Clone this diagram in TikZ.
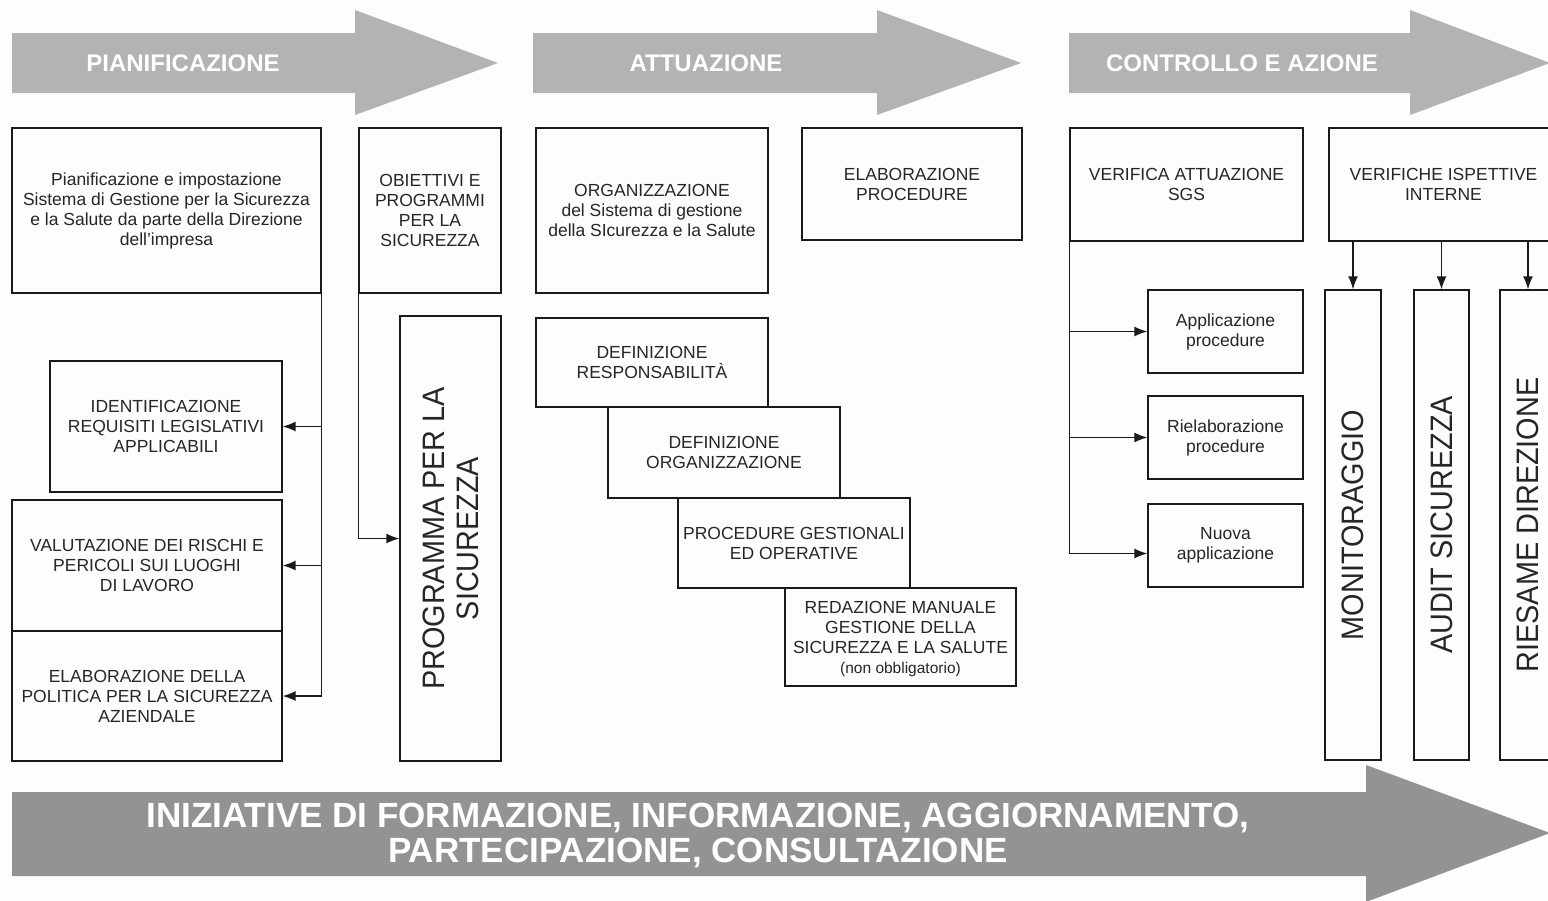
\documentclass[tikz,border=0pt]{standalone}
\usepackage{fontspec}
\setmainfont{Liberation Sans}
\newfontfamily\vertfont[FakeStretch=0.93]{Liberation Sans}
\usetikzlibrary{arrows.meta}
\definecolor{paper}{HTML}{FDFDFD}
\definecolor{phase}{HTML}{B3B3B3}
\definecolor{train}{HTML}{939393}
\definecolor{ink}{HTML}{1A1A1A}
\definecolor{boxtext}{HTML}{262626}
\tikzset{
  ubox/.style={draw=ink, line width=1.2pt, inner sep=0pt, align=center, text=boxtext,
    font=\fontsize{17.5}{20}\selectfont},
  vlab/.style={rotate=90, align=center, text=boxtext, font=\vertfont\fontsize{31}{34}\selectfont},
  phaselab/.style={text=white, font=\bfseries\fontsize{24}{28}\selectfont},
  trainlab/.style={text=white, align=center, font=\bfseries\fontsize{35}{35}\selectfont},
  conn/.style={draw=ink, line width=1.5pt},
  arr/.style={conn, -{Latex[length=13pt,width=10pt]}}
}

\begin{document}
\begin{tikzpicture}[x=1pt, y=-1pt]
  \useasboundingbox (0,0) rectangle (1548,900);
  \fill[paper] (0,0) rectangle (1548,900);

  \fill[phase] (12,33) -- (355,33) -- (355,10) -- (498,63) -- (355,115) -- (355,93) -- (12,93) -- cycle;
  \fill[phase] (533,33) -- (877,33) -- (877,10) -- (1021,63) -- (877,115) -- (877,93) -- (533,93) -- cycle;
  \fill[phase] (1069,33) -- (1410,33) -- (1410,10) -- (1550,63) -- (1410,115) -- (1410,93) -- (1069,93) -- cycle;
  \fill[train] (12,792) -- (1366,792) -- (1366,765) -- (1550,833) -- (1366,902) -- (1366,876) -- (12,876) -- cycle;

  \node[phaselab] (pianlab) at (183,63) {PIANIFICAZIONE};
  \node[phaselab] (attlab) at (706,63) {ATTUAZIONE};
  \node[phaselab] (ctrllab) at (1242,63) {CONTROLLO E AZIONE};
  \node[trainlab] (trainlab) at (698,835.5) {INIZIATIVE DI FORMAZIONE, INFORMAZIONE, AGGIORNAMENTO,\\PARTECIPAZIONE, CONSULTAZIONE};

  % pianificazione
  \node[ubox, minimum width=309pt, minimum height=165pt] (pian) at (166.5,210.5)
    {Pianificazione e impostazione\\Sistema di Gestione per la Sicurezza\\e la Salute da parte della Direzione\\dell’impresa};
  \node[ubox, minimum width=142pt, minimum height=165pt] (obiet) at (430,210.5)
    {OBIETTIVI E\\PROGRAMMI\\PER LA\\SICUREZZA};
  \node[ubox, minimum width=232pt, minimum height=131pt] (ident) at (166,426.5)
    {IDENTIFICAZIONE\\REQUISITI LEGISLATIVI\\APPLICABILI};
  \node[ubox, minimum width=270pt, minimum height=131pt] (valut) at (147,565.5)
    {VALUTAZIONE DEI RISCHI E\\PERICOLI SUI LUOGHI\\DI LAVORO};
  \node[ubox, minimum width=270pt, minimum height=130pt] (polit) at (147,696)
    {ELABORAZIONE DELLA\\POLITICA PER LA SICUREZZA\\AZIENDALE};
  \node[ubox, minimum width=101pt, minimum height=445pt] (prog) at (450.5,538.5) {};
  \node[vlab] (proglab) at (prog) {PROGRAMMA PER LA\\SICUREZZA};

  \draw[arr] (pian.south east) |- (polit.east);
  \draw[arr] (pian.south east |- ident.east) -- (ident.east);
  \draw[arr] (pian.south east |- valut.east) -- (valut.east);
  \draw[arr] (obiet.south west) |- (prog.west);

  % attuazione
  \node[ubox, minimum width=232pt, minimum height=165pt] (organ) at (652,210.5)
    {ORGANIZZAZIONE\\del Sistema di gestione\\della SIcurezza e la Salute};
  \node[ubox, minimum width=220pt, minimum height=112pt] (elabp) at (912,184)
    {ELABORAZIONE\\PROCEDURE};
  \node[ubox, minimum width=232pt, minimum height=89pt] (resp) at (652,362.5)
    {DEFINIZIONE\\RESPONSABILITÀ};
  \node[ubox, minimum width=232pt, minimum height=91pt] (defo) at (724,452.5)
    {DEFINIZIONE\\ORGANIZZAZIONE};
  \node[ubox, minimum width=232pt, minimum height=90pt] (gest) at (794,543)
    {PROCEDURE GESTIONALI\\ED OPERATIVE};
  \node[ubox, minimum width=231pt, minimum height=98pt, text depth=0pt] (manu) at (900.5,637)
    {REDAZIONE MANUALE\\GESTIONE DELLA\\SICUREZZA E LA SALUTE\\{\fontsize{15.5}{22}\selectfont (non obbligatorio)}};

  % controllo e azione
  \node[ubox, minimum width=233pt, minimum height=113pt] (verif) at (1186.5,184.5)
    {VERIFICA ATTUAZIONE\\SGS};
  \node[ubox, minimum width=229pt, minimum height=113pt] (ispet) at (1443.5,184.5)
    {VERIFICHE ISPETTIVE\\INTERNE};
  \node[ubox, minimum width=155pt, minimum height=83pt] (appl) at (1225.5,331.5)
    {Applicazione\\procedure};
  \node[ubox, minimum width=155pt, minimum height=83pt] (riel) at (1225.5,437.5)
    {Rielaborazione\\procedure};
  \node[ubox, minimum width=155pt, minimum height=83pt] (nuova) at (1225.5,545.5)
    {Nuova\\applicazione};
  \node[ubox, minimum width=56pt, minimum height=470pt] (moni) at (1353,525) {};
  \node[ubox, minimum width=55pt, minimum height=470pt] (audit) at (1441.5,525) {};
  \node[ubox, minimum width=56pt, minimum height=470pt] (ries) at (1528,525) {};
  \node[vlab] (monilab) at (moni) {MONITORAGGIO};
  \node[vlab] (auditlab) at (audit) {AUDIT SICUREZZA};
  \node[vlab] (rieslab) at (ries) {RIESAME DIREZIONE};

  \draw[arr] (verif.south west) |- ([yshift=-8pt]nuova.west);
  \draw[arr] (verif.south west |- appl.west) -- (appl.west);
  \draw[arr] (verif.south west |- riel.west) -- (riel.west);
  \draw[arr] (moni.north |- ispet.south) -- (moni.north);
  \draw[arr] (audit.north |- ispet.south) -- (audit.north);
  \draw[arr] (ries.north |- ispet.south) -- (ries.north);
\end{tikzpicture}
\end{document}
